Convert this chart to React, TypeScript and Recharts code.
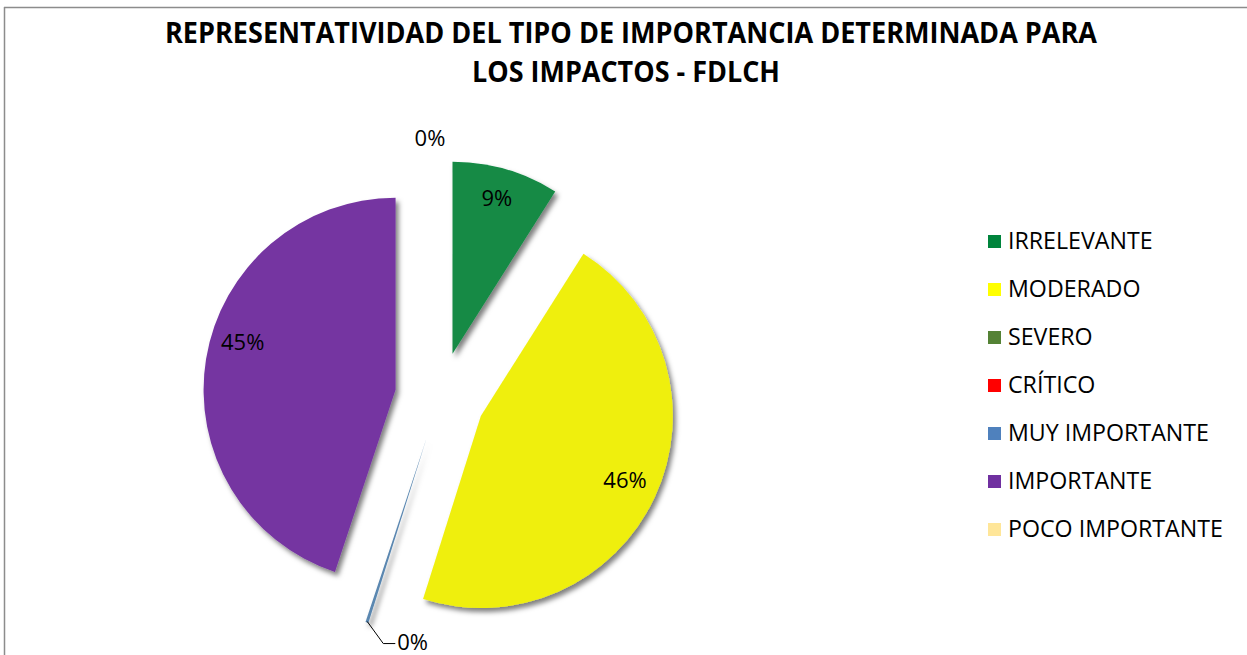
import React from 'react';
import { PieChart, Pie, Cell, Sector, Legend } from 'recharts';

const categories = ['IRRELEVANTE', 'MODERADO', 'SEVERO', 'CRÍTICO', 'MUY IMPORTANTE', 'IMPORTANTE', 'POCO IMPORTANTE'];
const values = [9, 46, 0, 0, 0.25, 45, 0];
const sliceColors = ['#128A44', '#EFEF0C', '#548235', '#FF0000', '#5A87B0', '#7535A1', '#FFE699'];
const legendColors = ['#00843C', '#FFFF00', '#548235', '#FF0000', '#4F81BD', '#7030A0', '#FFE699'];
const shownLabels = [true, true, false, false, true, true, true];
const labelAngleShift = [0, 0, 0, 0, 0, -5.5, 0];
const titleLines = ['REPRESENTATIVIDAD DEL TIPO DE IMPORTANCIA DETERMINADA PARA', 'LOS IMPACTOS - FDLCH'];

const data = categories.map((name, i) => ({ name, value: values[i] }));

const RAD = Math.PI / 180;
const EXPLODE = 45;
const FONT = '"Open Sans", sans-serif';

const polar = (cx: number, cy: number, r: number, angle: number) => ({
  x: cx + r * Math.cos(-angle * RAD),
  y: cy + r * Math.sin(-angle * RAD),
});

const renderShape = (props: any) => {
  const { cx, cy, midAngle, startAngle, endAngle, index } = props;
  if (Math.abs(endAngle - startAngle) < 0.01) return <g />;
  const off = polar(0, 0, EXPLODE, midAngle);
  const fid = `shadow-${index}`;
  return (
    <g>
      <defs>
        <filter id={fid} x="-20%" y="-20%" width="140%" height="140%">
          <feDropShadow dx="3" dy="4" stdDeviation="2.5" floodColor="#000" floodOpacity="0.5" />
        </filter>
      </defs>
      <Sector
        {...props}
        cx={cx + off.x}
        cy={cy + off.y}
        stroke="none"
        filter={`url(#${fid})`}
      />
    </g>
  );
};

const renderLabel = (props: any) => {
  const { cx, cy, midAngle, percent, index } = props;
  if (!shownLabels[index]) return null;
  const txt = `${Math.round(percent * 100)}%`;
  const common = { fontFamily: FONT, fontSize: 22, fill: '#000' };
  if (index === 4) {
    const a = polar(cx, cy, 236, midAngle);
    const b = polar(cx, cy, 253, midAngle + 5);
    return (
      <g>
        <polyline points={`${a.x},${a.y} ${b.x},${b.y} ${b.x + 12},${b.y}`} fill="none" stroke="#000" strokeWidth={1} />
        <text x={b.x + 14} y={b.y - 3} dominantBaseline="central" textAnchor="start" {...common}>{txt}</text>
      </g>
    );
  }
  if (index === 6) {
    const p = polar(cx, cy, 260, midAngle);
    return (
      <text x={p.x - 10} y={p.y} dominantBaseline="central" textAnchor="middle" {...common}>{txt}</text>
    );
  }
  const p = polar(cx, cy, 204, midAngle + labelAngleShift[index]);
  return (
    <text x={p.x} y={p.y - 4} dominantBaseline="central" textAnchor="middle" {...common}>{txt}</text>
  );
};

const renderLegend = (props: any) => {
  const payload = props.payload || [];
  return (
    <svg width={262} height={340} style={{ display: 'block' }}>
      {categories.map((name, i) => {
        const entry = payload.find((p: any) => p.value === name);
        return (
          <g key={name}>
            <rect x={3} y={15 + 48 * i} width={13} height={13} fill={legendColors[i]} />
            <text x={23} y={29 + 48 * i} fontFamily={FONT} fontSize={23.2} fill="#000">
              {entry ? entry.value : name}
            </text>
          </g>
        );
      })}
    </svg>
  );
};

export default function App() {
  return (
    <div style={{ position: 'absolute', left: 0, top: 0, width: 1247, height: 655, background: '#fff', overflow: 'hidden' }}>
      <PieChart width={1247} height={655} margin={{ top: 0, right: 0, bottom: 0, left: 0 }}>
        <Pie
          data={data}
          dataKey="value"
          nameKey="name"
          cx={440}
          cy={397}
          outerRadius={192}
          startAngle={90}
          endAngle={-270}
          stroke="none"
          isAnimationActive={false}
          shape={renderShape}
          label={renderLabel}
          labelLine={false}
        >
          {data.map((d, i) => (
            <Cell key={d.name} fill={sliceColors[i]} />
          ))}
        </Pie>
        <Legend
          layout="vertical"
          align="right"
          verticalAlign="top"
          content={renderLegend}
          wrapperStyle={{ position: 'absolute', left: 985, top: 220, width: 262, height: 340 }}
        />
      </PieChart>
      <svg width={1247} height={655} style={{ position: 'absolute', left: 0, top: 0, pointerEvents: 'none' }}>
        <line x1={4.5} y1={7} x2={4.5} y2={655} stroke="#8c8c8c" strokeWidth={1.5} />
        <line x1={4} y1={7.5} x2={1247} y2={7.5} stroke="#8c8c8c" strokeWidth={1.5} />
        <text x={631} y={43} textAnchor="middle" fontFamily={FONT} fontWeight={700} fontSize={28} fill="#000"
          textLength={932} lengthAdjust="spacingAndGlyphs">{titleLines[0]}</text>
        <text x={626} y={82} textAnchor="middle" fontFamily={FONT} fontWeight={700} fontSize={28} fill="#000"
          textLength={308} lengthAdjust="spacingAndGlyphs">{titleLines[1]}</text>
      </svg>
    </div>
  );
}
